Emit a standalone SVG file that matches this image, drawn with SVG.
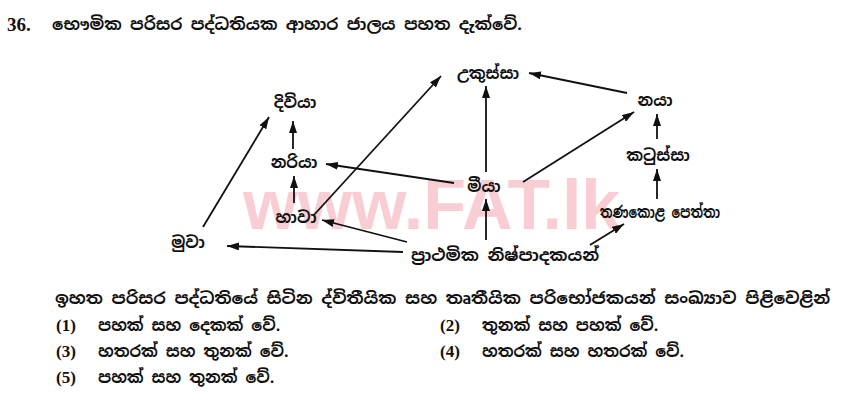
<svg xmlns="http://www.w3.org/2000/svg" width="860" height="405" viewBox="0 0 860 405">
<style>
.si{font-family:"Noto Sans Sinhala","Noto Serif Sinhala","Iskoola Pota","Noto Sans","DejaVu Sans",sans-serif;font-size:16px;font-weight:bold;fill:#111}
.num{font-family:"Liberation Serif",serif;font-size:17px;font-weight:bold;fill:#111}
.node{text-anchor:middle}
.edge{stroke:#111;stroke-width:1.8;fill:none;marker-end:url(#ah)}
.wm{font-family:"Liberation Sans",Arial,sans-serif;font-weight:bold;font-size:70px;fill:#f8cdd3}
</style>
<defs>
<marker id="ah" viewBox="0 0 12 8" refX="12" refY="4" markerWidth="12" markerHeight="8" markerUnits="userSpaceOnUse" orient="auto">
<path d="M0,0 L12,4 L0,8 Z" fill="#111"/>
</marker>
</defs>
<rect width="860" height="405" fill="#fff"/>
<text class="wm" x="243" y="229">www.FAT.lk</text>
<g id="title">
<text class="num" x="7" y="31" style="font-size:19px">36.</text>
<text class="si" x="52" y="30" textLength="470" lengthAdjust="spacingAndGlyphs">භෞමික පරිසර පද්ධතියක ආහාර ජාලය පහත දැක්වේ.</text>
</g>
<g id="connectors">
<line class="edge" x1="203" y1="227" x2="269" y2="117"/>
<line class="edge" x1="293" y1="149" x2="293" y2="121"/>
<line class="edge" x1="294" y1="203" x2="294" y2="176"/>
<line class="edge" x1="313" y1="216" x2="441" y2="76"/>
<line class="edge" x1="454" y1="183" x2="326" y2="164"/>
<line class="edge" x1="486" y1="172" x2="486" y2="86"/>
<line class="edge" x1="523" y1="182" x2="634" y2="112"/>
<line class="edge" x1="627" y1="93" x2="529" y2="73"/>
<line class="edge" x1="657" y1="139" x2="657" y2="114"/>
<line class="edge" x1="657" y1="199" x2="657" y2="169"/>
<line class="edge" x1="590" y1="245" x2="624" y2="224"/>
<line class="edge" x1="486" y1="240" x2="486" y2="199"/>
<line class="edge" x1="407" y1="242" x2="322" y2="220"/>
<line class="edge" x1="403" y1="252" x2="227" y2="246"/>
</g>
<g id="n-diviya"><text class="si node" x="295" y="108">දිවියා</text></g>
<g id="n-nariya"><text class="si node" x="294" y="168">නරියා</text></g>
<g id="n-hava"><text class="si node" x="296" y="223">හාවා</text></g>
<g id="n-muva"><text class="si node" x="188" y="248">මුවා</text></g>
<g id="n-ukussa"><text class="si node" x="488" y="79">උකුස්සා</text></g>
<g id="n-miya"><text class="si node" x="484" y="192">මීයා</text></g>
<g id="n-producers"><text class="si node" x="505" y="261" textLength="188" lengthAdjust="spacingAndGlyphs">ප්‍රාථමික නිෂ්පාදකයන්</text></g>
<g id="n-naya"><text class="si node" x="655" y="106">නයා</text></g>
<g id="n-katussa"><text class="si node" x="658" y="161">කටුස්සා</text></g>
<g id="n-grasshopper"><text class="si node" x="660" y="218" textLength="120" lengthAdjust="spacingAndGlyphs">තණකොළ පෙත්තා</text></g>
<g id="question">
<text class="si" x="55" y="304" textLength="775" lengthAdjust="spacingAndGlyphs">ඉහත පරිසර පද්ධතියේ සිටින ද්විතීයික සහ තෘතීයික පරිභෝජකයන් සංඛ්‍යාව පිළිවෙළින්</text>
<text class="num" x="56" y="331">(1)</text><text class="si" x="98" y="331">පහක් සහ දෙකක් වේ.</text>
<text class="num" x="440" y="331">(2)</text><text class="si" x="482" y="331">තුනක් සහ පහක් වේ.</text>
<text class="num" x="56" y="357">(3)</text><text class="si" x="98" y="357">හතරක් සහ තුනක් වේ.</text>
<text class="num" x="440" y="357">(4)</text><text class="si" x="482" y="357">හතරක් සහ හතරක් වේ.</text>
<text class="num" x="56" y="383">(5)</text><text class="si" x="98" y="383">පහක් සහ තුනක් වේ.</text>
</g>
</svg>
